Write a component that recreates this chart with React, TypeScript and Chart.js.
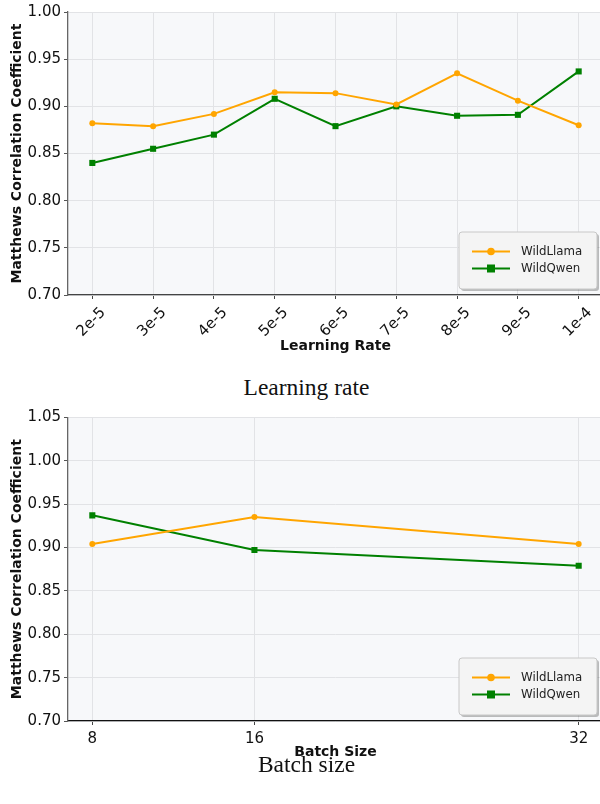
import React, { useEffect, useRef } from "react";
import { Chart, registerables } from "chart.js";

Chart.register(...registerables);

// ---- Data ----
const lrLabels = ["2e-5", "3e-5", "4e-5", "5e-5", "6e-5", "7e-5", "8e-5", "9e-5", "1e-4"];
const lrLlama = [0.882, 0.879, 0.892, 0.915, 0.914, 0.902, 0.935, 0.906, 0.880];
const lrQwen = [0.840, 0.855, 0.870, 0.908, 0.879, 0.900, 0.890, 0.891, 0.937];

const batchSizes = [8, 16, 32];
const bsLlama = [0.904, 0.935, 0.904];
const bsQwen = [0.937, 0.897, 0.879];

const seriesNames = ["WildLlama", "WildQwen"];
const yTitle = "Matthews Correlation Coefficient";

const ORANGE = "#FFA500";
const GREEN = "#008000";
const FONT = "'DejaVu Sans', sans-serif";

const bgPlugin = {
  id: "plotBg",
  beforeDraw(chart: any) {
    const { ctx, chartArea: a } = chart;
    ctx.save();
    ctx.fillStyle = "#f7f8fa";
    ctx.fillRect(a.left, a.top, a.right - a.left, a.bottom - a.top);
    ctx.restore();
  },
};

const legendPlugin = {
  id: "boxLegend",
  afterDraw(chart: any) {
    const { ctx, chartArea: a } = chart;
    const w = 138, h = 57;
    const x = a.right - 6 - w;
    const y = a.bottom - 6 - h;
    ctx.save();
    ctx.fillStyle = "rgba(0,0,0,0.25)";
    roundRect(ctx, x + 2, y + 2, w, h, 3);
    ctx.fill();
    ctx.fillStyle = "#f4f4f4";
    ctx.strokeStyle = "#c8c8c8";
    ctx.lineWidth = 1;
    roundRect(ctx, x, y, w, h, 3);
    ctx.fill();
    ctx.stroke();
    chart.data.datasets.forEach((ds: any, i: number) => {
      const ry = y + 19.5 + i * 17;
      ctx.strokeStyle = ds.borderColor;
      ctx.lineWidth = 2;
      ctx.beginPath();
      ctx.moveTo(x + 13, ry);
      ctx.lineTo(x + 51, ry);
      ctx.stroke();
      ctx.fillStyle = ds.borderColor;
      if (ds.pointStyle === "rect") {
        ctx.fillRect(x + 32 - 4, ry - 4, 8, 8);
      } else {
        ctx.beginPath();
        ctx.arc(x + 32, ry, 3.8, 0, Math.PI * 2);
        ctx.fill();
      }
      ctx.fillStyle = "#222";
      ctx.font = `11.8px ${FONT}`;
      ctx.textBaseline = "middle";
      ctx.textAlign = "left";
      ctx.fillText(ds.label, x + 62, ry);
    });
    ctx.restore();
  },
};

function roundRect(ctx: any, x: number, y: number, w: number, h: number, r: number) {
  ctx.beginPath();
  ctx.moveTo(x + r, y);
  ctx.lineTo(x + w - r, y);
  ctx.quadraticCurveTo(x + w, y, x + w, y + r);
  ctx.lineTo(x + w, y + h - r);
  ctx.quadraticCurveTo(x + w, y + h, x + w - r, y + h);
  ctx.lineTo(x + r, y + h);
  ctx.quadraticCurveTo(x, y + h, x, y + h - r);
  ctx.lineTo(x, y + r);
  ctx.quadraticCurveTo(x, y, x + r, y);
  ctx.closePath();
}

function makeDatasets(xs: number[], a: number[], b: number[]) {
  return [
    {
      label: seriesNames[0],
      data: xs.map((x, i) => ({ x, y: a[i] })),
      borderColor: ORANGE,
      backgroundColor: ORANGE,
      borderWidth: 2,
      pointStyle: "circle",
      pointRadius: 3,
      pointBorderWidth: 0,
    },
    {
      label: seriesNames[1],
      data: xs.map((x, i) => ({ x, y: b[i] })),
      borderColor: GREEN,
      backgroundColor: GREEN,
      borderWidth: 2,
      pointStyle: "rect",
      pointRadius: 4.3,
      pointBorderWidth: 0,
    },
  ];
}

function yAxis(max: number) {
  return {
    type: "linear",
    min: 0.7,
    max,
    afterFit: (s: any) => {
      s.width = 68;
    },
    afterBuildTicks: (s: any) => {
      const t = [];
      for (let v = 0.7; v <= max + 1e-9; v += 0.05) t.push({ value: Math.round(v * 100) / 100 });
      s.ticks = t;
    },
    ticks: {
      color: "#111",
      font: { family: FONT, size: 15 },
      padding: 3,
      callback: (v: any) => Number(v).toFixed(2),
    },
    grid: {
      color: "#e2e3e6",
      lineWidth: 1,
      tickColor: "#555",
      tickLength: 4,
    },
    border: { color: "#666", width: 1.3 },
    title: {
      display: true,
      text: yTitle,
      color: "#111",
      font: { family: FONT, size: 14, weight: "bold" },
      padding: { top: 8.6, bottom: 0 },
    },
  };
}

function LineChart({ kind }: { kind: "lr" | "bs" }) {
  const ref = useRef<HTMLCanvasElement>(null);
  useEffect(() => {
    if (!ref.current) return;
    const isLr = kind === "lr";
    const xs = isLr ? lrLabels.map((_, i) => i) : batchSizes;
    const datasets = isLr ? makeDatasets(xs, lrLlama, lrQwen) : makeDatasets(xs, bsLlama, bsQwen);
    const xScale: any = {
      type: "linear",
      min: isLr ? -0.4 : 6.8,
      max: isLr ? xs.length - 1 + 0.4 : 33.2,
      afterFit: (s: any) => {
        s.height = isLr ? 67 : 41;
      },
      afterBuildTicks: (s: any) => {
        s.ticks = xs.map((v) => ({ value: v }));
      },
      ticks: {
        color: "#111",
        font: { family: FONT, size: 15 },
        padding: isLr ? 5 : 5,
        autoSkip: false,
        maxRotation: isLr ? 45 : 0,
        minRotation: isLr ? 45 : 0,
        labelOffset: isLr ? 11 : 0,
        callback: (v: any) => (isLr ? lrLabels[Math.round(v)] : String(v)),
      },
      grid: {
        color: "#e2e3e6",
        lineWidth: 1,
        tickColor: "#444",
        tickLength: 4,
      },
      border: { color: isLr ? "#444" : "#111", width: 1.3 },
      title: {
        display: true,
        text: isLr ? "Learning Rate" : "Batch Size",
        color: "#111",
        font: { family: FONT, size: 14, weight: "bold" },
        padding: { top: 0, bottom: isLr ? 7.1 : 1 },
      },
    };
    const chart = new Chart(ref.current, {
      type: "line",
      data: { datasets: datasets as any },
      options: {
        animation: false,
        responsive: false,
        maintainAspectRatio: false,
        layout: { padding: { top: isLr ? 12 : 17.3, right: 9, left: 0, bottom: 0 } },
        plugins: { legend: { display: false }, tooltip: { enabled: false } },
        scales: { x: xScale, y: yAxis(isLr ? 1.0 : 1.05) as any },
      } as any,
      plugins: [bgPlugin, legendPlugin],
    });
    return () => chart.destroy();
  }, [kind]);
  return <canvas ref={ref} width={612} height={362} style={{ display: "block", width: 612, height: 362 }} />;
}

const captionStyle: React.CSSProperties = {
  position: "absolute",
  left: 0,
  width: 613,
  textAlign: "center",
  fontFamily: "'Liberation Serif', 'Times New Roman', serif",
  fontSize: 23.5,
  lineHeight: "28px",
  color: "#111",
};

export default function App() {
  return (
    <div style={{ position: "fixed", left: 0, top: 0, width: 600, height: 804, overflow: "hidden", background: "#fff" }}>
      <div style={{ position: "absolute", left: 0, top: 0 }}>
        <LineChart kind="lr" />
      </div>
      <div style={{ ...captionStyle, top: 373 }}>Learning rate</div>
      <div style={{ position: "absolute", left: 0, top: 400 }}>
        <LineChart kind="bs" />
      </div>
      <div style={{ ...captionStyle, top: 750 }}>Batch size</div>
    </div>
  );
}
